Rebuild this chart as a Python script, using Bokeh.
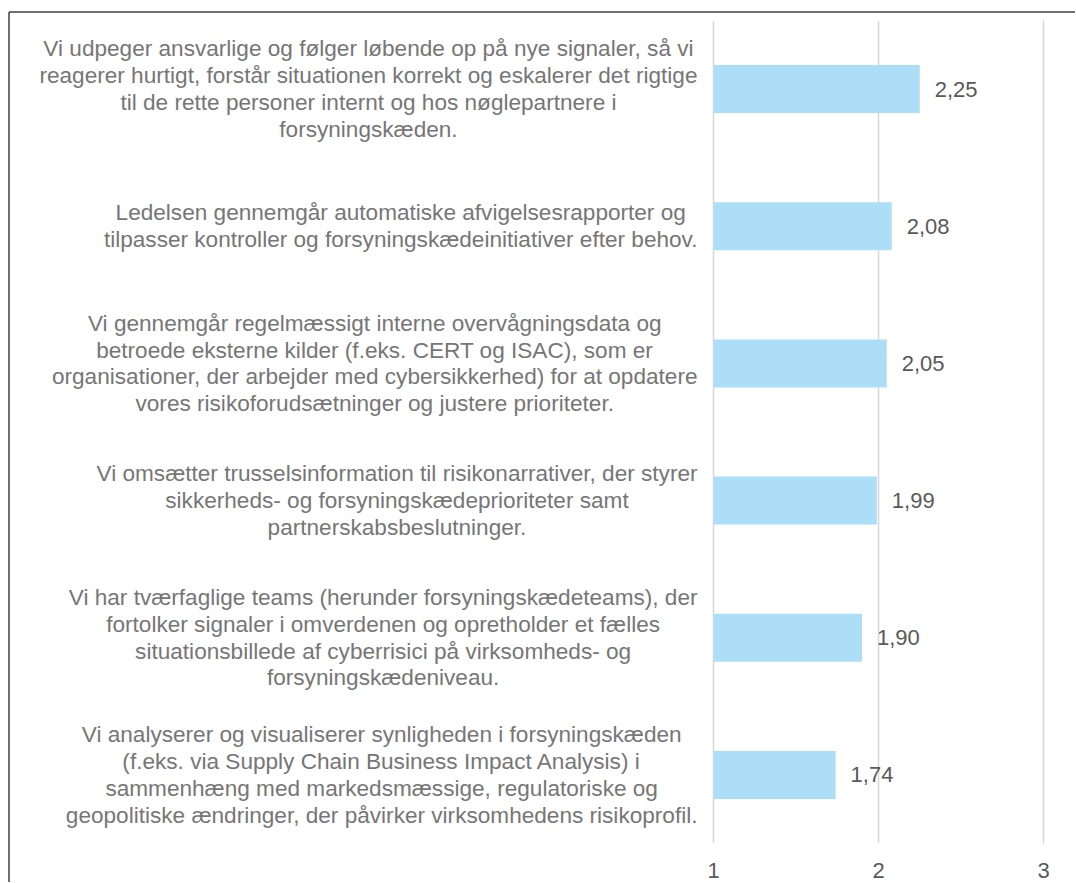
from bokeh.plotting import figure
from bokeh.models import Range1d, ColumnDataSource
from bokeh.embed import file_html
from bokeh.resources import INLINE
from bokeh.core.properties import value

# ---- data (top to bottom as shown) ----
categories = [
    "Vi udpeger ansvarlige og følger løbende op på nye signaler, så vi\nreagerer hurtigt, forstår situationen korrekt og eskalerer det rigtige\ntil de rette personer internt og hos nøglepartnere i\nforsyningskæden.",
    "Ledelsen gennemgår automatiske afvigelsesrapporter og\ntilpasser kontroller og forsyningskædeinitiativer efter behov.",
    "Vi gennemgår regelmæssigt interne overvågningsdata og\nbetroede eksterne kilder (f.eks. CERT og ISAC), som er\norganisationer, der arbejder med cybersikkerhed) for at opdatere\nvores risikoforudsætninger og justere prioriteter.",
    "Vi omsætter trusselsinformation til risikonarrativer, der styrer\nsikkerheds- og forsyningskædeprioriteter samt\npartnerskabsbeslutninger.",
    "Vi har tværfaglige teams (herunder forsyningskædeteams), der\nfortolker signaler i omverdenen og opretholder et fælles\nsituationsbillede af cyberrisici på virksomheds- og\nforsyningskædeniveau.",
    "Vi analyserer og visualiserer synligheden i forsyningskæden\n(f.eks. via Supply Chain Business Impact Analysis) i\nsammenhæng med markedsmæssige, regulatoriske og\ngeopolitiske ændringer, der påvirker virksomhedens risikoprofil.",
]
values = [2.25, 2.08, 2.05, 1.99, 1.90, 1.74]
value_labels = ["2,25", "2,08", "2,05", "1,99", "1,90", "1,74"]
x_ticks = [1, 2, 3]
x_tick_labels = ["1", "2", "3"]

n = len(categories)
ypos = [n - i - 0.5 for i in range(n)]

# ---- layout constants (pixels) ----
W, H = 1075, 882
px_per_unit = 165.0
x_one_px = 713.0          # screen x of value 1
cat_top_px = 20.0         # top of category band area
cat_bot_px = 843.0        # bottom of category band area
cat_px = (cat_bot_px - cat_top_px) / n

x_start = 1 - x_one_px / px_per_unit
x_end = 1 + (W - x_one_px) / px_per_unit
y_end = n + cat_top_px / cat_px
y_start = -(H - cat_bot_px) / cat_px

FONT = "Liberation Sans"

p = figure(width=W, height=H, output_backend="svg", toolbar_location=None,
           x_range=Range1d(x_start, x_end), y_range=Range1d(y_start, y_end),
           min_border=0, x_axis_location=None, y_axis_location=None)
p.outline_line_color = None
p.background_fill_color = "white"
p.border_fill_color = "white"
p.grid.visible = False

# gridlines
p.segment(x0=x_ticks, x1=x_ticks, y0=[0] * len(x_ticks), y1=[n] * len(x_ticks),
          line_color="#D9D9D9", line_width=1.6)

src = ColumnDataSource(dict(y=ypos, v=values, lab=value_labels, cat=categories,
                            left=[1] * n))
p.hbar(y="y", left="left", right="v", height=0.35, source=src,
       fill_color="#ADDEF7", line_color=None)

p.text(x="v", y="y", text="lab", source=src, x_offset=15,
       text_font=value(FONT), text_font_size="22px", text_color="#595959",
       text_align="left", text_baseline="middle")

p.text(x=1 - 16 / px_per_unit, y="y", text="cat", source=src,
       anchor="center_right", text_align="center", text_baseline="middle",
       text_font=value(FONT), text_font_size="22.6px", text_color="#767676",
       text_line_height=1.07)

# x tick labels
p.text(x=x_ticks, y=[-(870 - cat_bot_px) / cat_px] * len(x_ticks), text=x_tick_labels,
       text_font=value(FONT), text_font_size="22px", text_color="#595959",
       text_align="center", text_baseline="middle")

# chart-area border (left and top edges)
bx = 1 - (x_one_px - 8.5) / px_per_unit
by = n + (cat_top_px - 11.5) / cat_px
p.segment(x0=[bx, bx], y0=[by, by], x1=[bx, x_end + 1], y1=[y_start - 1, by],
          line_color="#404040", line_width=1.5)

open("out.html", "w").write(file_html(p, INLINE))
